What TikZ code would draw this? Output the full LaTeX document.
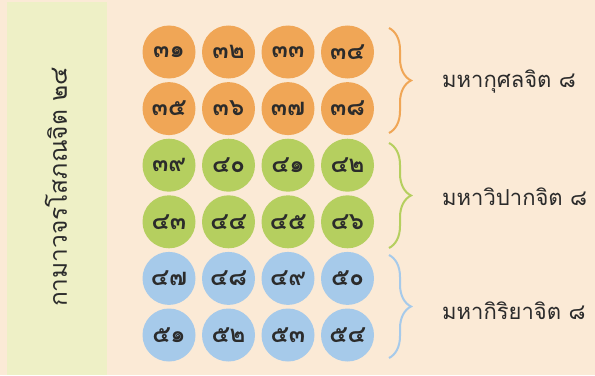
\documentclass[tikz,border=0pt]{standalone}
\usepackage{fontspec}
\newfontfamily\thaifont[Script=Thai]{Loma}
\usetikzlibrary{decorations.pathreplacing}
\definecolor{bg}{HTML}{FBEAD6}
\definecolor{panel}{HTML}{EEF0C6}
\definecolor{corange}{HTML}{F0A656}
\definecolor{cgreen}{HTML}{B5CF5F}
\definecolor{cblue}{HTML}{A6CAEA}
\definecolor{ink}{HTML}{2B2B2B}
\tikzset{
  cell/.style={circle, minimum size=53bp, inner sep=0pt, font=\thaifont\bfseries\fontsize{24bp}{26bp}\selectfont, text=ink},
  bracestyle/.style={decorate, decoration={brace, amplitude=22bp, aspect=0.5}, line width=2bp},
  grouplabel/.style={anchor=west, font=\thaifont\fontsize{22bp}{24bp}\selectfont, text=ink, inner sep=0pt}
}
\begin{document}
\begin{tikzpicture}[x=1bp,y=1bp]
\useasboundingbox (0,0) rectangle (595,375);
\fill[bg] (0,0) rectangle (595,375);
\fill[panel] (7,0) rectangle (107,373);
\node[rotate=90, font=\thaifont\fontsize{24.5bp}{26bp}\selectfont, text=ink] (title) at (56,188) {กามาวจรโสภณจิต ๒๔};
% rows
\foreach \r/\col/\a/\b/\c/\d in {
  1/corange/๓๑/๓๒/๓๓/๓๔,
  2/corange/๓๕/๓๖/๓๗/๓๘,
  3/cgreen/๓๙/๔๐/๔๑/๔๒,
  4/cgreen/๔๓/๔๔/๔๕/๔๖,
  5/cblue/๔๗/๔๘/๔๙/๕๐,
  6/cblue/๕๑/๕๒/๕๓/๕๔}{
  \pgfmathsetmacro{\yy}{375-52-(\r-1)*56.6}
  \node[cell, fill=\col] (c\r-1) at (169,\yy) {\a};
  \node[cell, fill=\col] (c\r-2) at (228.5,\yy) {\b};
  \node[cell, fill=\col] (c\r-3) at (288,\yy) {\c};
  \node[cell, fill=\col] (c\r-4) at (347.5,\yy) {\d};
}
% braces
\coordinate (b1t) at (389,347);
\coordinate (b1b) at (389,242);
\coordinate (b2t) at (389,232);
\coordinate (b2b) at (389,127);
\coordinate (b3t) at (389,120);
\coordinate (b3b) at (389,17);
\draw[bracestyle, draw=corange] (b1t) -- (b1b);
\draw[bracestyle, draw=cgreen] (b2t) -- (b2b);
\draw[bracestyle, draw=cblue] (b3t) -- (b3b);
\node[grouplabel] (l1) at (442,293) {มหากุศลจิต ๘};
\node[grouplabel] (l2) at (442,178) {มหาวิปากจิต ๘};
\node[grouplabel] (l3) at (442,64) {มหากิริยาจิต ๘};
\end{tikzpicture}
\end{document}
